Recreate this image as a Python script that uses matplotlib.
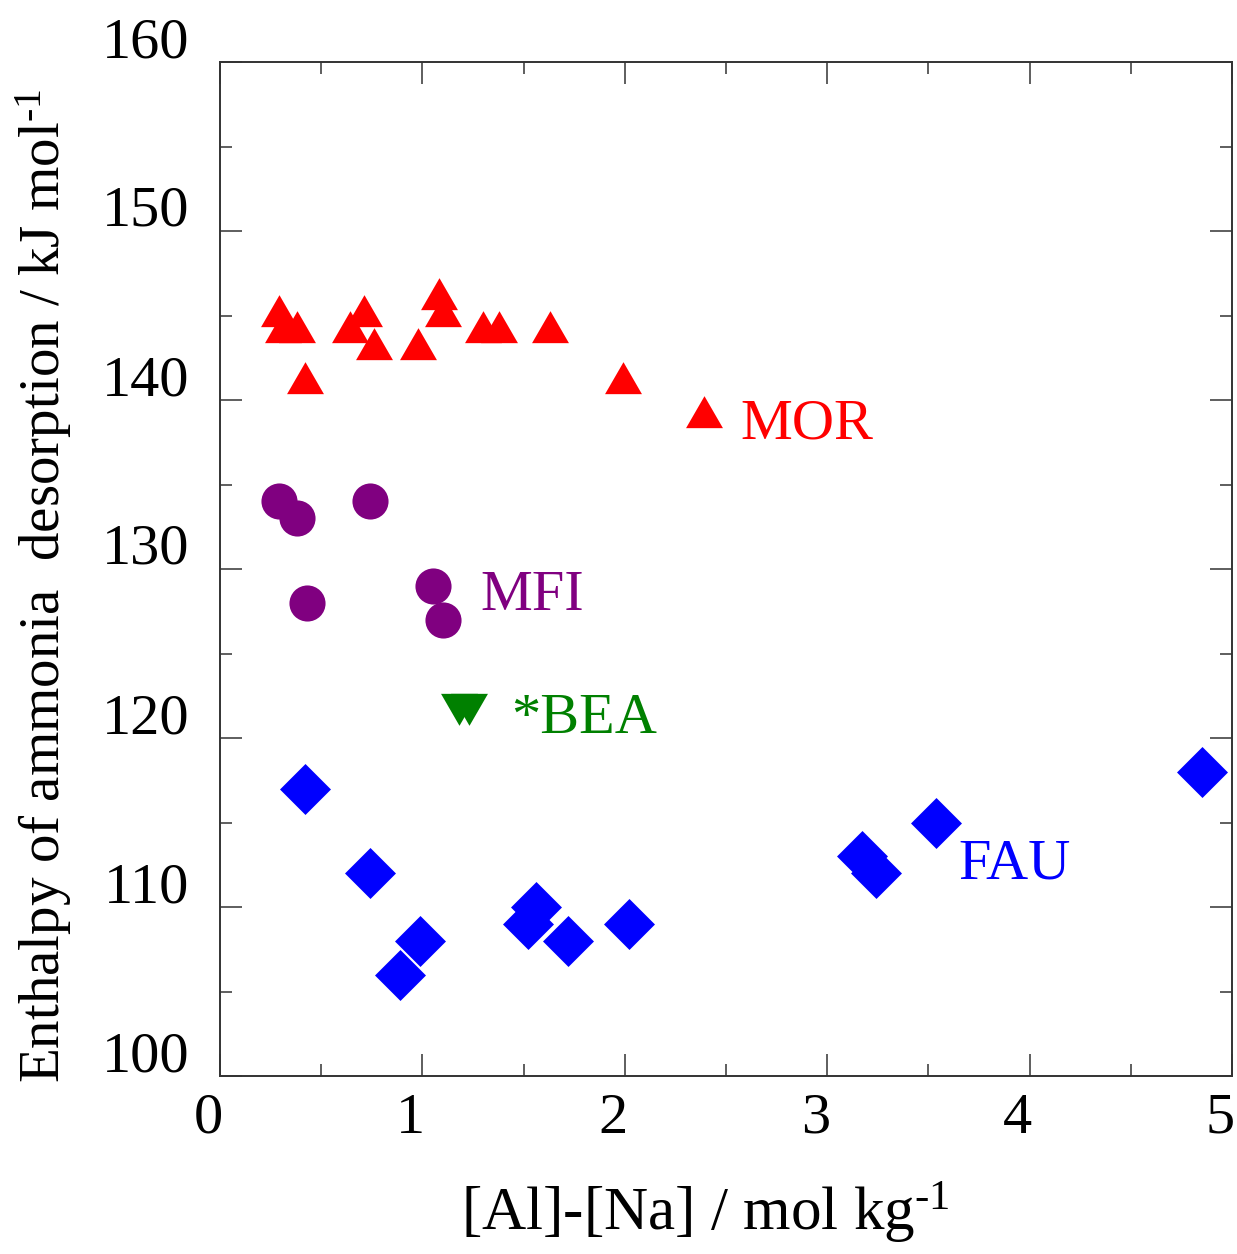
import matplotlib
matplotlib.use("Agg")
import matplotlib.pyplot as plt
from matplotlib.transforms import ScaledTranslation
from matplotlib.ticker import MultipleLocator

plt.rcParams['font.family'] = ['Liberation Serif', 'DejaVu Serif']
plt.rcParams['mathtext.fontset'] = 'custom'
plt.rcParams['mathtext.rm'] = 'Liberation Serif'
plt.rcParams['mathtext.it'] = 'Liberation Serif:italic'

# ---- data ----
mor_x = [0.29, 0.31, 0.38, 0.42, 0.64, 0.71, 0.76, 0.98, 1.08, 1.10, 1.30, 1.38, 1.63, 1.99, 2.39]
mor_y = [145, 144, 144, 141, 144, 145, 143, 143, 146, 145, 144, 144, 144, 141, 139]

mfi_x = [0.29, 0.38, 0.43, 0.74, 1.05, 1.10]
mfi_y = [134, 133, 128, 134, 129, 127]

bea_x = [1.18, 1.23]
bea_y = [122, 122]

fau_x = [0.42, 0.74, 0.89, 0.99, 1.52, 1.56, 1.72, 2.02, 3.17, 3.24, 3.54, 4.85]
fau_y = [117, 112, 106, 108, 109, 110, 108, 109, 113, 112, 115, 118]

labels = ["MOR", "MFI", "*BEA", "FAU"]
label_x = [2.57, 1.285, 1.44, 3.65]
label_y = [137.75, 127.6, 120.3, 111.7]
colors = ["#ff0000", "#800080", "#008000", "#0000ff"]

xticks = [0, 1, 2, 3, 4, 5]
yticks = [100, 110, 120, 130, 140, 150, 160]

# ---- markers (centroid-centred triangles) ----
tri_up = [(-0.866, -0.5), (0.866, -0.5), (0.0, 1.0)]
tri_dn = [(-0.866, 0.5), (0.866, 0.5), (0.0, -1.0)]
diamond = [(0, 1), (1, 0), (0, -1), (-1, 0)]

fig = plt.figure(figsize=(12.37, 12.54), dpi=100)
ax = fig.add_axes([220/1237, 1-1076/1254, (1232-220)/1237, (1076-62)/1254])

ax.plot(mor_x, mor_y, linestyle='none', marker=tri_up, markersize=30.7,
        color=colors[0], markeredgewidth=0)
ax.plot(mfi_x, mfi_y, linestyle='none', marker='o', markersize=26,
        color=colors[1], markeredgewidth=0)
ax.plot(bea_x, bea_y, linestyle='none', marker=tri_dn, markersize=30.7,
        color=colors[2], markeredgewidth=0)
ax.plot(fau_x, fau_y, linestyle='none', marker=diamond, markersize=36.7,
        color=colors[3], markeredgewidth=0)

for t, x, y, c in zip(labels, label_x, label_y, colors):
    ax.text(x, y, t, color=c, fontsize=42, ha='left', va='baseline')

ax.set_xlim(0, 5)
ax.set_ylim(100, 160)
ax.set_xticks(xticks)
ax.set_yticks(yticks)
ax.xaxis.set_minor_locator(MultipleLocator(0.5))
ax.yaxis.set_minor_locator(MultipleLocator(5))

spine_c = '#333333'
for s in ax.spines.values():
    s.set_linewidth(1.4)
    s.set_color(spine_c)
ax.tick_params(which='both', direction='in', top=True, right=True,
               color=spine_c, width=1.1, labelsize=42, labelcolor='black')
ax.tick_params(which='major', length=15.6)
ax.tick_params(which='minor', length=8.4)
ax.tick_params(axis='x', which='major', pad=12)
ax.tick_params(axis='y', which='major', pad=22)

ax.set_xlabel('[Al]-[Na] / mol kg$^{\\mathrm{\u20101}}$', fontsize=44, labelpad=26)
ax.set_ylabel('Enthalpy of ammonia  desorption / kJ mol$^{\\mathrm{\u20101}}$', fontsize=41, labelpad=20)
ax.xaxis.label.set_x(0.48)
ax.yaxis.label.set_y(0.483)

for lab in ax.get_xticklabels():
    lab.set_transform(lab.get_transform() + ScaledTranslation(-12/100, 0, fig.dpi_scale_trans))
for lab in ax.get_yticklabels():
    lab.set_transform(lab.get_transform() + ScaledTranslation(0, 25/100, fig.dpi_scale_trans))

fig.savefig('out.png', dpi=100)
